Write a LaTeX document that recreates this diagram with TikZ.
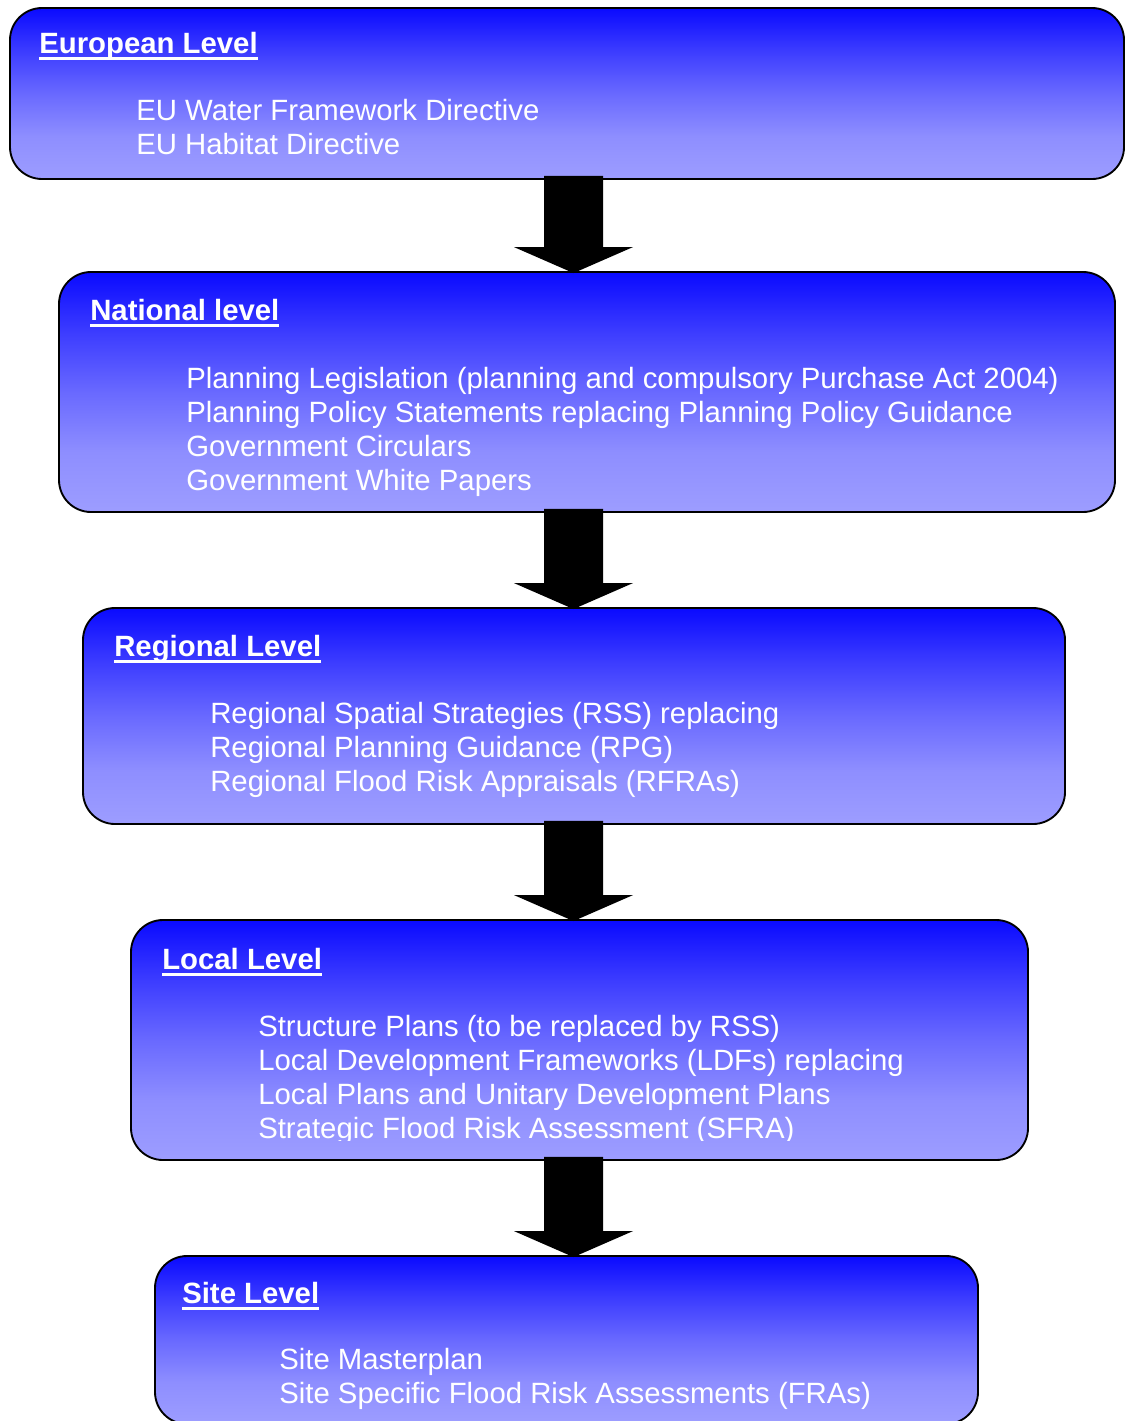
\documentclass[tikz,border=0pt]{standalone}
\usepackage{fontspec}
\setmainfont{Liberation Sans}
\usetikzlibrary{calc,fit}
\definecolor{deepblue}{RGB}{10,10,255}
\definecolor{upperblue}{RGB}{60,60,255}
\definecolor{midblue}{RGB}{105,105,255}
\definecolor{lowerblue}{RGB}{142,142,255}
\definecolor{paleblue}{RGB}{157,157,255}
\pgfdeclareverticalshading{levelshade}{100bp}{color(0bp)=(paleblue); color(25bp)=(paleblue);
  color(37.5bp)=(lowerblue); color(50bp)=(midblue); color(62.5bp)=(upperblue);
  color(75bp)=(deepblue); color(100bp)=(deepblue)}
\newsavebox{\titlebox}
\newcommand{\ultitle}[1]{\sbox{\titlebox}{#1}\rlap{\rule[-5.2pt]{\wd\titlebox}{2.2pt}}\usebox{\titlebox}}
\tikzset{
  level/.style={rounded corners=24pt,draw=black,line width=1.4pt,shading=levelshade,inner sep=0pt},
  leveltitle/.style={anchor=base west,inner sep=0pt,text=white,font=\fontsize{22}{25.5}\selectfont\bfseries},
  levelbody/.style={anchor=base west,inner sep=0pt,text=white,align=left,font=\fontsize{22}{25.5}\selectfont},
  blockarrow/.style={fill=black}
}
% block arrow from the bottom of one level to the top of the next
\newcommand{\levelarrow}[2]{%
  \fill[blockarrow] ($(#1.south -| axis)+(-29.5,-4)$) -- ($(#1.south -| axis)+(29.5,-4)$)
    -- ($(#2.north -| axis)+(29.5,-24)$) -- ($(#2.north -| axis)+(59.5,-24)$)
    -- ($(#2.north -| axis)+(0,2)$) -- ($(#2.north -| axis)+(-59.5,-24)$)
    -- ($(#2.north -| axis)+(-29.5,-24)$) -- cycle;}

\begin{document}
\begin{tikzpicture}[x=0.75pt,y=-0.75pt]
  \useasboundingbox (0,0) rectangle (1125,1421);
  \coordinate (axis) at (573.5,0);

  % levels
  \node[level,fit={(10,8) (1124,179)}] (eu) {};
  \node[level,fit={(59,272) (1115,512)}] (nat) {};
  \node[level,fit={(83,608) (1065,824)}] (reg) {};
  \node[level,fit={(131,920) (1028,1160)}] (loc) {};
  \node[level,fit={(155,1256) (978,1424)}] (site) {};

  % text (body nodes sit on the baseline of their last line)
  \node[leveltitle] (eutitle) at (39,53) {\ultitle{European Level}};
  \node[levelbody] (eubody) at (136,154) {EU Water Framework Directive\\EU Habitat Directive};

  \node[leveltitle] (nattitle) at (90,320) {\ultitle{National level}};
  \node[levelbody] (natbody) at (186,490) {Planning Legislation (planning and compulsory Purchase Act 2004)\\
    Planning Policy Statements replacing Planning Policy Guidance\\
    Government Circulars\\Government White Papers};

  \node[leveltitle] (regtitle) at (114,656) {\ultitle{Regional Level}};
  \node[levelbody] (regbody) at (210,791) {Regional Spatial Strategies (RSS) replacing\\
    Regional Planning Guidance (RPG)\\Regional Flood Risk Appraisals (RFRAs)};

  \node[leveltitle] (loctitle) at (162,969) {\ultitle{Local Level}};
  \begin{scope}
    \clip (131,920) rectangle (1028,1140);
    \node[levelbody] (locbody) at (258,1138) {Structure Plans (to be replaced by RSS)\\
      Local Development Frameworks (LDFs) replacing\\
      Local Plans and Unitary Development Plans\\
      Strategic Flood Risk Assessment (SFRA)};
  \end{scope}

  \node[leveltitle] (sitetitle) at (182,1303) {\ultitle{Site Level}};
  \node[levelbody] (sitebody) at (279,1403) {Site Masterplan\\Site Specific Flood Risk Assessments (FRAs)};

  % arrows between levels
  \levelarrow{eu}{nat}
  \levelarrow{nat}{reg}
  \levelarrow{reg}{loc}
  \levelarrow{loc}{site}
\end{tikzpicture}
\end{document}
